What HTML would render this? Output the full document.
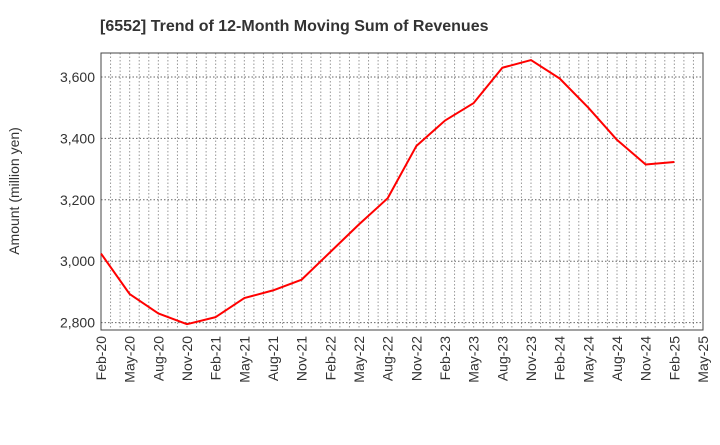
<!DOCTYPE html>
<html><head><meta charset="utf-8"><style>
body{margin:0;background:#fff;font-family:"Liberation Sans",sans-serif;}
</style></head><body>
<svg id="chart" width="720" height="440" xmlns="http://www.w3.org/2000/svg">
<text x="100" y="31" font-size="16" font-weight="bold" fill="#333">[6552]  Trend of 12-Month Moving Sum of Revenues</text>
<text transform="translate(19,191) rotate(-90)" text-anchor="middle" font-size="14" fill="#333">Amount (million yen)</text>
<g id="grid"></g><g id="axes"></g><g id="series"></g>
</svg>
<script>
const categories=["Feb-20","May-20","Aug-20","Nov-20","Feb-21","May-21","Aug-21","Nov-21","Feb-22","May-22","Aug-22","Nov-22","Feb-23","May-23","Aug-23","Nov-23","Feb-24","May-24","Aug-24","Nov-24","Feb-25","May-25"];
const values=[3025,2893,2830,2795,2818,2880,2905,2940,3030,3120,3205,3375,3458,3515,3630,3655,3595,3500,3395,3315,3323];
const yTicks=[2800,3000,3200,3400,3600];
const yMin=2776,yMax=3678;
const L=101,R=703,T=53,B=330;
const NS="http://www.w3.org/2000/svg";
const xs=i=>L+(R-L)*i/(categories.length-1);
const ys=v=>B-(v-yMin)/(yMax-yMin)*(B-T);
function mk(tag,attrs,parent){const e=document.createElementNS(NS,tag);for(const k in attrs)e.setAttribute(k,attrs[k]);parent.appendChild(e);return e;}
const grid=document.getElementById('grid'),axes=document.getElementById('axes'),series=document.getElementById('series');
const nMonths=(categories.length-1)*3;
for(let m=1;m<nMonths;m++){const x=L+(R-L)*m/nMonths;
const l=mk('line',{x1:x,x2:x,y1:T,y2:B,stroke:'#999','stroke-width':1,'stroke-dasharray':'1.5,2'},grid);

}
yTicks.forEach(v=>{const y=ys(v);
const l=mk('line',{x1:L,x2:R,y1:y,y2:y,stroke:'#666','stroke-width':1,'stroke-dasharray':'1.5,2'},grid);


const t=mk('text',{x:L-6,y:y+5,'text-anchor':'end','font-size':14,fill:'#333'},axes);
t.textContent=v.toLocaleString('en-US');

});
categories.forEach((c,i)=>{const x=xs(i);
const t=mk('text',{transform:`translate(${x+5},${B+6}) rotate(-90)`,'text-anchor':'end','font-size':14,fill:'#333'},axes);
t.textContent=c;

});
const fr=mk('rect',{x:L,y:T,width:R-L,height:B-T,fill:'none',stroke:'#444','stroke-width':1},axes);


const p=mk('polyline',{points:values.map((v,i)=>xs(i)+','+ys(v)).join(' '),fill:'none',stroke:'#ff0000','stroke-width':2,'stroke-linejoin':'round'},series);


</script>
</body></html>
